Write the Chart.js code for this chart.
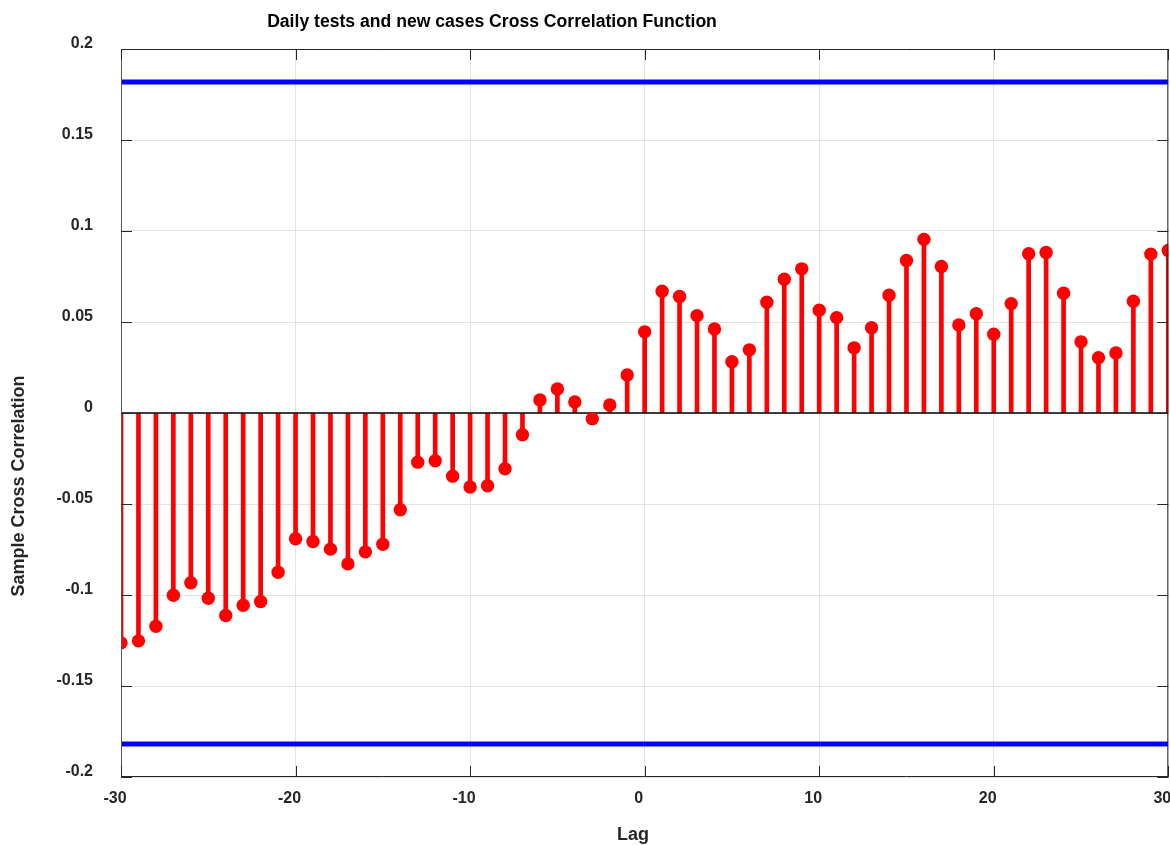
<!DOCTYPE html>
<html>
<head>
<meta charset="utf-8">
<script src="https://cdn.jsdelivr.net/npm/chart.js@4.4.1/dist/chart.umd.min.js"></script>
<style>
  html, body { margin: 0; padding: 0; background: #fff; overflow: hidden; }
  #wrap { width: 1175px; height: 845px; }
</style>
</head>
<body>
<div id="wrap"><canvas id="ccf"></canvas></div>
<script>
// lags and sample cross correlation
const lags = [-30, -29, -28, -27, -26, -25, -24, -23, -22, -21, -20, -19, -18, -17, -16, -15,
  -14, -13, -12, -11, -10, -9, -8, -7, -6, -5, -4, -3, -2, -1, 0, 1, 2, 3, 4, 5, 6, 7, 8, 9,
  10, 11, 12, 13, 14, 15, 16, 17, 18, 19, 20, 21, 22, 23, 24, 25, 26, 27, 28, 29, 30];
const xcf = [-0.1263, -0.1252, -0.1172, -0.1001, -0.0933, -0.1018, -0.1113, -0.1056, -0.1036,
  -0.0875, -0.0691, -0.0706, -0.0748, -0.0829, -0.0763, -0.0721, -0.0532, -0.0270, -0.0262,
  -0.0347, -0.0407, -0.0400, -0.0306, -0.0119, 0.0072, 0.0132, 0.0061, -0.0031, 0.0044,
  0.0209, 0.0446, 0.0669, 0.0640, 0.0535, 0.0462, 0.0282, 0.0347, 0.0609, 0.0735, 0.0792,
  0.0565, 0.0524, 0.0358, 0.0469, 0.0647, 0.0838, 0.0954, 0.0805, 0.0484, 0.0545, 0.0433,
  0.0601, 0.0875, 0.0882, 0.0658, 0.0391, 0.0304, 0.0330, 0.0614, 0.0873, 0.0893];
// confidence bounds
const bound = 0.1818;
const xRange = [-30, 30];
const yRange = [-0.2, 0.2];
const xStep = 10;
const yStep = 0.05;

const FONT = '"Liberation Sans", Arial, sans-serif';

const stemPts = lags.map((l, i) => ({ x: l, y: xcf[i] }));
const upperPts = xRange.map(x => ({ x: x, y: bound }));
const lowerPts = xRange.map(x => ({ x: x, y: -bound }));
const zeroPts = xRange.map(x => ({ x: x, y: 0 }));

// frame, inward ticks and the texts
const decor = {
  id: 'decor',
  afterDatasetsDraw(chart) {
    const { ctx, chartArea: a, scales } = chart;
    ctx.save();
    ctx.lineWidth = 1;
    ctx.strokeStyle = '#262626';
    ctx.beginPath();
    ctx.moveTo(a.left, a.top + 0.5); ctx.lineTo(a.right, a.top + 0.5);
    ctx.moveTo(a.right - 0.5, a.top); ctx.lineTo(a.right - 0.5, a.bottom);
    ctx.moveTo(a.left, a.bottom - 0.5); ctx.lineTo(a.right, a.bottom - 0.5);
    ctx.stroke();
    ctx.strokeStyle = '#555';
    ctx.beginPath();
    ctx.moveTo(a.left + 0.5, a.top); ctx.lineTo(a.left + 0.5, a.bottom);
    ctx.stroke();

    ctx.strokeStyle = '#262626';
    ctx.beginPath();
    scales.x.ticks.forEach(t => {
      const px = Math.round(scales.x.getPixelForValue(t.value)) + 0.5;
      ctx.moveTo(px, a.top); ctx.lineTo(px, a.top + 11);
      ctx.moveTo(px, a.bottom); ctx.lineTo(px, a.bottom - 11);
    });
    scales.y.ticks.forEach(t => {
      const py = Math.round(scales.y.getPixelForValue(t.value)) + 0.5;
      ctx.moveTo(a.left, py); ctx.lineTo(a.left + 11, py);
      ctx.moveTo(a.right, py); ctx.lineTo(a.right - 11, py);
    });
    ctx.stroke();
    ctx.restore();
  },
  afterDraw(chart) {
    const { ctx } = chart;
    ctx.save();
    ctx.textAlign = 'center';
    ctx.textBaseline = 'middle';
    ctx.fillStyle = '#000';
    ctx.font = 'bold 17.6px ' + FONT;
    ctx.fillText('Daily tests and new cases Cross Correlation Function', 492, 22);
    ctx.fillStyle = '#262626';
    ctx.font = 'bold 18px ' + FONT;
    ctx.fillText('Lag', 633, 835);
    ctx.translate(19, 486);
    ctx.rotate(-Math.PI / 2);
    ctx.fillText('Sample Cross Correlation', 0, 0);
    ctx.restore();
  }
};

new Chart(document.getElementById('ccf'), {
  data: {
    datasets: [
      {
        type: 'line', data: upperPts, borderColor: '#0000ff', borderWidth: 5,
        pointRadius: 0, order: 4
      },
      {
        type: 'line', data: lowerPts, borderColor: '#0000ff', borderWidth: 5,
        pointRadius: 0, order: 4
      },
      {
        type: 'bar', data: stemPts, backgroundColor: '#ff0000', barThickness: 4,
        order: 3
      },
      {
        type: 'line', data: zeroPts, borderColor: '#000', borderWidth: 1.5,
        pointRadius: 0, order: 2
      },
      {
        type: 'scatter', data: stemPts, backgroundColor: '#ff0000', borderColor: '#ff0000',
        borderWidth: 0, pointRadius: 6.7, order: 1
      }
    ]
  },
  options: {
    responsive: true,
    maintainAspectRatio: false,
    animation: false,
    layout: { padding: { left: 0, top: 49, right: 0, bottom: 0 } },
    plugins: { legend: { display: false }, tooltip: { enabled: false }, title: { display: false } },
    scales: {
      x: {
        type: 'linear', min: xRange[0], max: xRange[1], offset: false,
        afterFit: s => { s.height = 68; s.paddingLeft = 0; s.paddingRight = 0; },
        border: { display: false },
        grid: { color: '#e2e2e2', lineWidth: 1, drawTicks: false, offset: false },
        ticks: {
          stepSize: xStep, padding: 12, labelOffset: -6, maxRotation: 0,
          color: '#262626', font: { family: FONT, size: 16, weight: 'bold' }
        }
      },
      y: {
        type: 'linear', min: yRange[0], max: yRange[1],
        afterFit: s => { s.width = 121; s.paddingTop = 0; s.paddingBottom = 0; },
        border: { display: false },
        grid: { color: '#e2e2e2', lineWidth: 1, drawTicks: false },
        ticks: {
          stepSize: yStep, padding: 28, labelOffset: -5,
          color: '#262626', font: { family: FONT, size: 16, weight: 'bold' },
          callback: v => String(Number(v.toFixed(2)))
        }
      }
    }
  },
  plugins: [decor]
});
</script>
</body>
</html>
